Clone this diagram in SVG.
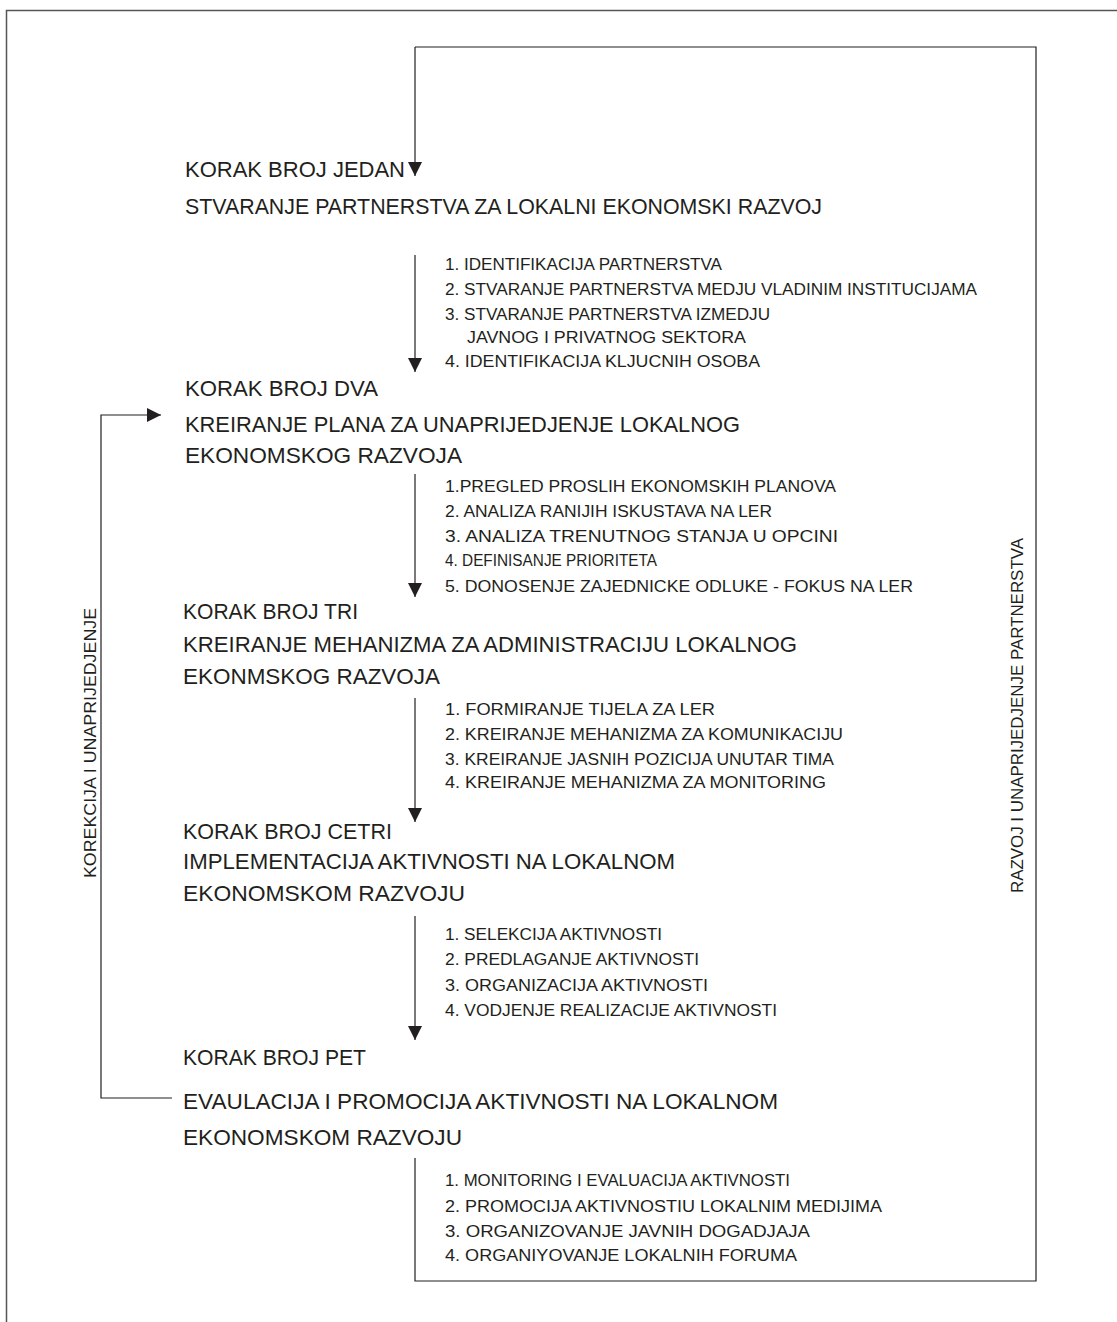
<svg xmlns="http://www.w3.org/2000/svg" width="1117" height="1322" viewBox="0 0 1117 1322">
<defs>
<style>
.h{font-family:"Liberation Sans",Arial,sans-serif;font-size:22px;fill:#231f20}
.l{font-family:"Liberation Sans",Arial,sans-serif;font-size:16px;fill:#231f20}
.r{font-family:"Liberation Sans",Arial,sans-serif;font-size:16px;fill:#231f20}
.ln{fill:none;stroke:#231f20;stroke-width:1.2}
.fr{fill:none;stroke:#555;stroke-width:1.5}
</style>
<marker id="ah" viewBox="0 0 14 14" refX="14" refY="7" markerWidth="14" markerHeight="14" markerUnits="userSpaceOnUse" orient="auto">
<path d="M0,0 L14,7 L0,14 Z" fill="#231f20"/>
</marker>
</defs>
<rect width="1117" height="1322" fill="#fff"/>
<path class="fr" d="M6.5,1322 V10.5 H1117"/>
<g id="connectors">
<path class="ln" d="M415,47 H1036 V1281 H415 V1158"/>
<path class="ln" d="M415,47 V176" marker-end="url(#ah)"/>
<path class="ln" d="M415,255 V372" marker-end="url(#ah)"/>
<path class="ln" d="M415,474 V597" marker-end="url(#ah)"/>
<path class="ln" d="M415,698 V822" marker-end="url(#ah)"/>
<path class="ln" d="M415,916 V1040" marker-end="url(#ah)"/>
<path class="ln" d="M172,1098 H101 V415 H161" marker-end="url(#ah)"/>
<text class="r" transform="translate(96,878) rotate(-90)" textLength="270" lengthAdjust="spacingAndGlyphs">KOREKCIJA I UNAPRIJEDJENJE</text>
<text class="r" transform="translate(1023,893) rotate(-90)" textLength="355" lengthAdjust="spacingAndGlyphs">RAZVOJ I UNAPRIJEDJENJE PARTNERSTVA</text>
</g>
<g id="step1">
<text class="h" x="185" y="177" textLength="220" lengthAdjust="spacingAndGlyphs">KORAK BROJ JEDAN</text>
<text class="h" x="185" y="214" textLength="637" lengthAdjust="spacingAndGlyphs">STVARANJE PARTNERSTVA ZA LOKALNI EKONOMSKI RAZVOJ</text>
</g>
<g id="list1">
<text class="l" x="445" y="270" textLength="277" lengthAdjust="spacingAndGlyphs">1. IDENTIFIKACIJA PARTNERSTVA</text>
<text class="l" x="445" y="295" textLength="532" lengthAdjust="spacingAndGlyphs">2. STVARANJE PARTNERSTVA MEDJU VLADINIM INSTITUCIJAMA</text>
<text class="l" x="445" y="320" textLength="325" lengthAdjust="spacingAndGlyphs">3. STVARANJE PARTNERSTVA IZMEDJU</text>
<text class="l" x="467" y="343" textLength="279" lengthAdjust="spacingAndGlyphs">JAVNOG I PRIVATNOG SEKTORA</text>
<text class="l" x="445" y="367" textLength="315" lengthAdjust="spacingAndGlyphs">4. IDENTIFIKACIJA KLJUCNIH OSOBA</text>
</g>
<g id="step2">
<text class="h" x="185" y="396" textLength="193" lengthAdjust="spacingAndGlyphs">KORAK BROJ DVA</text>
<text class="h" x="185" y="432" textLength="555" lengthAdjust="spacingAndGlyphs">KREIRANJE PLANA ZA UNAPRIJEDJENJE LOKALNOG</text>
<text class="h" x="185" y="463" textLength="277" lengthAdjust="spacingAndGlyphs">EKONOMSKOG RAZVOJA</text>
</g>
<g id="list2">
<text class="l" x="445" y="492" textLength="391" lengthAdjust="spacingAndGlyphs">1.PREGLED PROSLIH EKONOMSKIH PLANOVA</text>
<text class="l" x="445" y="517" textLength="327" lengthAdjust="spacingAndGlyphs">2. ANALIZA RANIJIH ISKUSTAVA NA LER</text>
<text class="l" x="445" y="542" textLength="393" lengthAdjust="spacingAndGlyphs">3. ANALIZA TRENUTNOG STANJA U OPCINI</text>
<text class="l" x="445" y="566" textLength="212" lengthAdjust="spacingAndGlyphs">4. DEFINISANJE PRIORITETA</text>
<text class="l" x="445" y="592" textLength="468" lengthAdjust="spacingAndGlyphs">5. DONOSENJE ZAJEDNICKE ODLUKE - FOKUS NA LER</text>
</g>
<g id="step3">
<text class="h" x="183" y="619" textLength="175" lengthAdjust="spacingAndGlyphs">KORAK BROJ TRI</text>
<text class="h" x="183" y="652" textLength="614" lengthAdjust="spacingAndGlyphs">KREIRANJE MEHANIZMA ZA ADMINISTRACIJU LOKALNOG</text>
<text class="h" x="183" y="684" textLength="257" lengthAdjust="spacingAndGlyphs">EKONMSKOG RAZVOJA</text>
</g>
<g id="list3">
<text class="l" x="445" y="715" textLength="270" lengthAdjust="spacingAndGlyphs">1. FORMIRANJE TIJELA ZA LER</text>
<text class="l" x="445" y="740" textLength="398" lengthAdjust="spacingAndGlyphs">2. KREIRANJE MEHANIZMA ZA KOMUNIKACIJU</text>
<text class="l" x="445" y="765" textLength="389" lengthAdjust="spacingAndGlyphs">3. KREIRANJE JASNIH POZICIJA UNUTAR TIMA</text>
<text class="l" x="445" y="788" textLength="381" lengthAdjust="spacingAndGlyphs">4. KREIRANJE MEHANIZMA ZA MONITORING</text>
</g>
<g id="step4">
<text class="h" x="183" y="839" textLength="209" lengthAdjust="spacingAndGlyphs">KORAK BROJ CETRI</text>
<text class="h" x="183" y="869" textLength="492" lengthAdjust="spacingAndGlyphs">IMPLEMENTACIJA AKTIVNOSTI NA LOKALNOM</text>
<text class="h" x="183" y="901" textLength="282" lengthAdjust="spacingAndGlyphs">EKONOMSKOM RAZVOJU</text>
</g>
<g id="list4">
<text class="l" x="445" y="940" textLength="217" lengthAdjust="spacingAndGlyphs">1. SELEKCIJA AKTIVNOSTI</text>
<text class="l" x="445" y="965" textLength="254" lengthAdjust="spacingAndGlyphs">2. PREDLAGANJE AKTIVNOSTI</text>
<text class="l" x="445" y="991" textLength="263" lengthAdjust="spacingAndGlyphs">3. ORGANIZACIJA AKTIVNOSTI</text>
<text class="l" x="445" y="1016" textLength="332" lengthAdjust="spacingAndGlyphs">4. VODJENJE REALIZACIJE AKTIVNOSTI</text>
</g>
<g id="step5">
<text class="h" x="183" y="1065" textLength="183" lengthAdjust="spacingAndGlyphs">KORAK BROJ PET</text>
<text class="h" x="183" y="1109" textLength="595" lengthAdjust="spacingAndGlyphs">EVAULACIJA I PROMOCIJA AKTIVNOSTI NA LOKALNOM</text>
<text class="h" x="183" y="1145" textLength="279" lengthAdjust="spacingAndGlyphs">EKONOMSKOM RAZVOJU</text>
</g>
<g id="list5">
<text class="l" x="445" y="1186" textLength="345" lengthAdjust="spacingAndGlyphs">1. MONITORING I EVALUACIJA AKTIVNOSTI</text>
<text class="l" x="445" y="1212" textLength="437" lengthAdjust="spacingAndGlyphs">2. PROMOCIJA AKTIVNOSTIU LOKALNIM MEDIJIMA</text>
<text class="l" x="445" y="1237" textLength="365" lengthAdjust="spacingAndGlyphs">3. ORGANIZOVANJE JAVNIH DOGADJAJA</text>
<text class="l" x="445" y="1261" textLength="352" lengthAdjust="spacingAndGlyphs">4. ORGANIYOVANJE LOKALNIH FORUMA</text>
</g>
</svg>
